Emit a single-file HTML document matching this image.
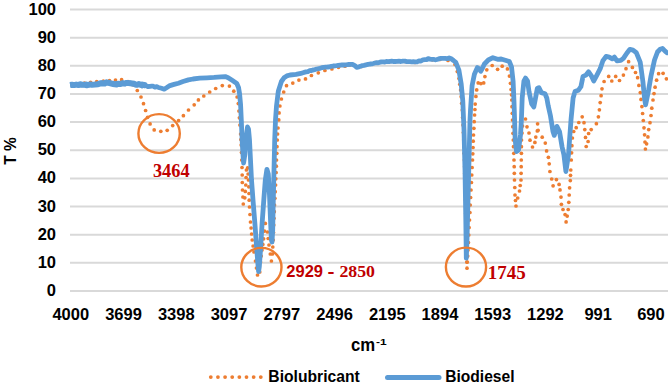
<!DOCTYPE html><html><head><meta charset="utf-8"><style>html,body{margin:0;padding:0;background:#fff;overflow:hidden}svg{display:block}text{font-family:"Liberation Sans",sans-serif;font-weight:bold}</style></head><body>
<svg width="668" height="388" viewBox="0 0 668 388">
<rect width="668" height="388" fill="#fff"/>
<line x1="70" y1="9.54" x2="668" y2="9.54" stroke="#d9d9d9" stroke-width="2"/>
<line x1="70" y1="37.68" x2="668" y2="37.68" stroke="#d9d9d9" stroke-width="2"/>
<line x1="70" y1="65.82" x2="668" y2="65.82" stroke="#d9d9d9" stroke-width="2"/>
<line x1="70" y1="93.96" x2="668" y2="93.96" stroke="#d9d9d9" stroke-width="2"/>
<line x1="70" y1="122.10" x2="668" y2="122.10" stroke="#d9d9d9" stroke-width="2"/>
<line x1="70" y1="150.24" x2="668" y2="150.24" stroke="#d9d9d9" stroke-width="2"/>
<line x1="70" y1="178.38" x2="668" y2="178.38" stroke="#d9d9d9" stroke-width="2"/>
<line x1="70" y1="206.52" x2="668" y2="206.52" stroke="#d9d9d9" stroke-width="2"/>
<line x1="70" y1="234.66" x2="668" y2="234.66" stroke="#d9d9d9" stroke-width="2"/>
<line x1="70" y1="262.80" x2="668" y2="262.80" stroke="#d9d9d9" stroke-width="2"/>
<line x1="70" y1="290.94" x2="668" y2="290.94" stroke="#d9d9d9" stroke-width="2"/>
<text x="56" y="14.65" font-size="16.5" text-anchor="end" fill="#000">100</text>
<text x="56" y="42.79" font-size="16.5" text-anchor="end" fill="#000">90</text>
<text x="56" y="70.93" font-size="16.5" text-anchor="end" fill="#000">80</text>
<text x="56" y="99.07" font-size="16.5" text-anchor="end" fill="#000">70</text>
<text x="56" y="127.21" font-size="16.5" text-anchor="end" fill="#000">60</text>
<text x="56" y="155.35" font-size="16.5" text-anchor="end" fill="#000">50</text>
<text x="56" y="183.49" font-size="16.5" text-anchor="end" fill="#000">40</text>
<text x="56" y="211.63" font-size="16.5" text-anchor="end" fill="#000">30</text>
<text x="56" y="239.77" font-size="16.5" text-anchor="end" fill="#000">20</text>
<text x="56" y="267.91" font-size="16.5" text-anchor="end" fill="#000">10</text>
<text x="56" y="296.05" font-size="16.5" text-anchor="end" fill="#000">0</text>
<text x="70.80" y="320.2" font-size="16.5" text-anchor="middle" fill="#000">4000</text>
<text x="123.54" y="320.2" font-size="16.5" text-anchor="middle" fill="#000">3699</text>
<text x="176.28" y="320.2" font-size="16.5" text-anchor="middle" fill="#000">3398</text>
<text x="229.02" y="320.2" font-size="16.5" text-anchor="middle" fill="#000">3097</text>
<text x="281.76" y="320.2" font-size="16.5" text-anchor="middle" fill="#000">2797</text>
<text x="334.50" y="320.2" font-size="16.5" text-anchor="middle" fill="#000">2496</text>
<text x="387.24" y="320.2" font-size="16.5" text-anchor="middle" fill="#000">2195</text>
<text x="439.98" y="320.2" font-size="16.5" text-anchor="middle" fill="#000">1894</text>
<text x="492.72" y="320.2" font-size="16.5" text-anchor="middle" fill="#000">1593</text>
<text x="545.46" y="320.2" font-size="16.5" text-anchor="middle" fill="#000">1292</text>
<text x="598.20" y="320.2" font-size="16.5" text-anchor="middle" fill="#000">991</text>
<text x="650.94" y="320.2" font-size="16.5" text-anchor="middle" fill="#000">690</text>
<g fill="#ed7d31"><circle cx="73.0" cy="84.6" r="1.85"/><circle cx="78.0" cy="84.0" r="1.85"/><circle cx="84.5" cy="83.0" r="1.85"/><circle cx="90.6" cy="82.3" r="1.85"/><circle cx="96.7" cy="81.6" r="1.85"/><circle cx="103.4" cy="81.0" r="1.85"/><circle cx="109.5" cy="80.6" r="1.85"/><circle cx="115.5" cy="80.1" r="1.85"/><circle cx="121.6" cy="79.7" r="1.85"/><circle cx="128.0" cy="81.6" r="1.85"/><circle cx="133.2" cy="84.8" r="1.85"/><circle cx="137.3" cy="90.5" r="1.85"/><circle cx="141.0" cy="97.0" r="1.85"/><circle cx="143.5" cy="103.7" r="1.85"/><circle cx="145.6" cy="110.5" r="1.85"/><circle cx="147.6" cy="117.3" r="1.85"/><circle cx="150.1" cy="123.9" r="1.85"/><circle cx="154.2" cy="129.9" r="1.85"/><circle cx="160.8" cy="131.3" r="1.85"/><circle cx="167.2" cy="130.3" r="1.85"/><circle cx="172.7" cy="125.6" r="1.85"/><circle cx="178.6" cy="120.6" r="1.85"/><circle cx="183.4" cy="115.7" r="1.85"/><circle cx="188.5" cy="110.0" r="1.85"/><circle cx="194.2" cy="104.8" r="1.85"/><circle cx="198.4" cy="99.9" r="1.85"/><circle cx="203.8" cy="96.0" r="1.85"/><circle cx="209.7" cy="92.0" r="1.85"/><circle cx="215.7" cy="88.5" r="1.85"/><circle cx="222.3" cy="85.6" r="1.85"/><circle cx="229.4" cy="86.1" r="1.85"/><circle cx="233.8" cy="91.2" r="1.85"/><circle cx="237.1" cy="97.0" r="1.85"/><circle cx="238.3" cy="103.6" r="1.85"/><circle cx="238.9" cy="111.0" r="1.85"/><circle cx="239.4" cy="117.8" r="1.85"/><circle cx="239.9" cy="125.0" r="1.85"/><circle cx="240.6" cy="134.0" r="1.85"/><circle cx="240.9" cy="139.5" r="1.85"/><circle cx="241.2" cy="145.0" r="1.85"/><circle cx="241.5" cy="152.5" r="1.85"/><circle cx="241.8" cy="160.0" r="1.85"/><circle cx="242.0" cy="167.5" r="1.85"/><circle cx="242.2" cy="175.0" r="1.85"/><circle cx="242.3" cy="182.5" r="1.85"/><circle cx="242.5" cy="190.0" r="1.85"/><circle cx="242.9" cy="197.0" r="1.85"/><circle cx="243.3" cy="204.0" r="1.85"/><circle cx="244.8" cy="197.8" r="1.85"/><circle cx="245.3" cy="191.4" r="1.85"/><circle cx="245.8" cy="185.0" r="1.85"/><circle cx="246.1" cy="177.5" r="1.85"/><circle cx="246.4" cy="170.0" r="1.85"/><circle cx="247.6" cy="167.9" r="1.85"/><circle cx="248.1" cy="174.0" r="1.85"/><circle cx="248.5" cy="180.0" r="1.85"/><circle cx="248.8" cy="186.8" r="1.85"/><circle cx="249.0" cy="193.5" r="1.85"/><circle cx="249.2" cy="200.2" r="1.85"/><circle cx="249.5" cy="207.0" r="1.85"/><circle cx="250.0" cy="214.5" r="1.85"/><circle cx="250.5" cy="222.0" r="1.85"/><circle cx="251.1" cy="228.0" r="1.85"/><circle cx="251.6" cy="234.0" r="1.85"/><circle cx="252.2" cy="240.0" r="1.85"/><circle cx="253.1" cy="246.0" r="1.85"/><circle cx="254.0" cy="252.0" r="1.85"/><circle cx="255.5" cy="261.0" r="1.85"/><circle cx="256.5" cy="268.0" r="1.85"/><circle cx="257.5" cy="275.0" r="1.85"/><circle cx="259.8" cy="272.0" r="1.85"/><circle cx="260.5" cy="262.0" r="1.85"/><circle cx="261.2" cy="256.0" r="1.85"/><circle cx="262.0" cy="250.0" r="1.85"/><circle cx="262.8" cy="244.4" r="1.85"/><circle cx="263.6" cy="238.8" r="1.85"/><circle cx="264.5" cy="231.1" r="1.85"/><circle cx="265.3" cy="223.4" r="1.85"/><circle cx="267.5" cy="232.0" r="1.85"/><circle cx="268.2" cy="238.5" r="1.85"/><circle cx="269.0" cy="245.0" r="1.85"/><circle cx="270.3" cy="254.0" r="1.85"/><circle cx="271.4" cy="261.0" r="1.85"/><circle cx="272.4" cy="254.0" r="1.85"/><circle cx="272.8" cy="247.0" r="1.85"/><circle cx="273.2" cy="240.0" r="1.85"/><circle cx="273.5" cy="232.5" r="1.85"/><circle cx="273.8" cy="225.0" r="1.85"/><circle cx="274.0" cy="218.3" r="1.85"/><circle cx="274.3" cy="211.7" r="1.85"/><circle cx="274.5" cy="205.0" r="1.85"/><circle cx="274.9" cy="198.3" r="1.85"/><circle cx="275.2" cy="191.7" r="1.85"/><circle cx="275.6" cy="185.0" r="1.85"/><circle cx="275.8" cy="178.8" r="1.85"/><circle cx="276.1" cy="172.5" r="1.85"/><circle cx="276.3" cy="166.2" r="1.85"/><circle cx="276.5" cy="160.0" r="1.85"/><circle cx="276.8" cy="153.3" r="1.85"/><circle cx="277.0" cy="146.7" r="1.85"/><circle cx="277.3" cy="140.0" r="1.85"/><circle cx="277.6" cy="134.0" r="1.85"/><circle cx="278.0" cy="128.0" r="1.85"/><circle cx="278.8" cy="119.9" r="1.85"/><circle cx="279.1" cy="112.9" r="1.85"/><circle cx="279.9" cy="106.0" r="1.85"/><circle cx="281.4" cy="99.0" r="1.85"/><circle cx="283.7" cy="92.0" r="1.85"/><circle cx="286.5" cy="85.7" r="1.85"/><circle cx="292.8" cy="83.1" r="1.85"/><circle cx="298.9" cy="80.1" r="1.85"/><circle cx="305.5" cy="78.9" r="1.85"/><circle cx="311.4" cy="75.5" r="1.85"/><circle cx="318.3" cy="72.8" r="1.85"/><circle cx="324.9" cy="70.5" r="1.85"/><circle cx="331.9" cy="68.9" r="1.85"/><circle cx="338.5" cy="67.3" r="1.85"/><circle cx="345.0" cy="66.2" r="1.85"/><circle cx="350.0" cy="65.0" r="1.85"/><circle cx="356.0" cy="66.5" r="1.85"/><circle cx="361.6" cy="66.4" r="1.85"/><circle cx="367.0" cy="64.5" r="1.85"/><circle cx="375.0" cy="62.5" r="1.85"/><circle cx="382.5" cy="62.0" r="1.85"/><circle cx="390.0" cy="61.5" r="1.85"/><circle cx="397.5" cy="61.5" r="1.85"/><circle cx="405.0" cy="61.5" r="1.85"/><circle cx="415.0" cy="62.5" r="1.85"/><circle cx="425.0" cy="60.0" r="1.85"/><circle cx="432.5" cy="59.8" r="1.85"/><circle cx="440.0" cy="59.5" r="1.85"/><circle cx="448.0" cy="60.5" r="1.85"/><circle cx="455.0" cy="64.5" r="1.85"/><circle cx="457.3" cy="71.6" r="1.85"/><circle cx="459.0" cy="78.6" r="1.85"/><circle cx="459.8" cy="84.3" r="1.85"/><circle cx="460.6" cy="90.0" r="1.85"/><circle cx="461.2" cy="96.7" r="1.85"/><circle cx="461.7" cy="103.3" r="1.85"/><circle cx="462.3" cy="110.0" r="1.85"/><circle cx="462.6" cy="117.5" r="1.85"/><circle cx="463.0" cy="125.0" r="1.85"/><circle cx="463.4" cy="132.5" r="1.85"/><circle cx="463.7" cy="140.0" r="1.85"/><circle cx="463.9" cy="146.7" r="1.85"/><circle cx="464.1" cy="153.3" r="1.85"/><circle cx="464.4" cy="160.0" r="1.85"/><circle cx="464.6" cy="166.7" r="1.85"/><circle cx="464.8" cy="173.3" r="1.85"/><circle cx="465.0" cy="180.0" r="1.85"/><circle cx="465.1" cy="186.7" r="1.85"/><circle cx="465.3" cy="193.3" r="1.85"/><circle cx="465.4" cy="200.0" r="1.85"/><circle cx="465.6" cy="206.7" r="1.85"/><circle cx="465.8" cy="213.3" r="1.85"/><circle cx="465.9" cy="220.0" r="1.85"/><circle cx="466.0" cy="227.5" r="1.85"/><circle cx="466.2" cy="235.0" r="1.85"/><circle cx="466.4" cy="242.5" r="1.85"/><circle cx="466.5" cy="250.0" r="1.85"/><circle cx="466.7" cy="256.1" r="1.85"/><circle cx="466.8" cy="262.1" r="1.85"/><circle cx="467.0" cy="268.2" r="1.85"/><circle cx="467.3" cy="262.1" r="1.85"/><circle cx="467.7" cy="256.1" r="1.85"/><circle cx="468.0" cy="250.0" r="1.85"/><circle cx="468.4" cy="242.5" r="1.85"/><circle cx="468.8" cy="235.0" r="1.85"/><circle cx="469.1" cy="227.5" r="1.85"/><circle cx="469.5" cy="220.0" r="1.85"/><circle cx="469.9" cy="212.5" r="1.85"/><circle cx="470.2" cy="205.0" r="1.85"/><circle cx="470.6" cy="197.5" r="1.85"/><circle cx="471.0" cy="190.0" r="1.85"/><circle cx="471.4" cy="182.5" r="1.85"/><circle cx="471.8" cy="175.0" r="1.85"/><circle cx="472.1" cy="167.5" r="1.85"/><circle cx="472.5" cy="160.0" r="1.85"/><circle cx="472.8" cy="153.8" r="1.85"/><circle cx="473.0" cy="147.5" r="1.85"/><circle cx="473.2" cy="141.2" r="1.85"/><circle cx="473.5" cy="135.0" r="1.85"/><circle cx="473.9" cy="128.3" r="1.85"/><circle cx="474.2" cy="121.7" r="1.85"/><circle cx="474.6" cy="115.0" r="1.85"/><circle cx="474.9" cy="109.5" r="1.85"/><circle cx="475.2" cy="104.1" r="1.85"/><circle cx="475.9" cy="96.4" r="1.85"/><circle cx="476.7" cy="89.9" r="1.85"/><circle cx="478.2" cy="82.9" r="1.85"/><circle cx="483.7" cy="82.9" r="1.85"/><circle cx="484.9" cy="76.6" r="1.85"/><circle cx="486.8" cy="69.8" r="1.85"/><circle cx="492.2" cy="65.5" r="1.85"/><circle cx="497.6" cy="69.3" r="1.85"/><circle cx="502.2" cy="66.2" r="1.85"/><circle cx="507.4" cy="68.9" r="1.85"/><circle cx="509.4" cy="76.1" r="1.85"/><circle cx="510.5" cy="83.3" r="1.85"/><circle cx="511.1" cy="89.5" r="1.85"/><circle cx="511.5" cy="94.8" r="1.85"/><circle cx="511.8" cy="100.0" r="1.85"/><circle cx="512.0" cy="106.7" r="1.85"/><circle cx="512.3" cy="113.3" r="1.85"/><circle cx="512.5" cy="120.0" r="1.85"/><circle cx="512.8" cy="126.7" r="1.85"/><circle cx="513.0" cy="133.3" r="1.85"/><circle cx="513.3" cy="140.0" r="1.85"/><circle cx="513.5" cy="146.7" r="1.85"/><circle cx="513.8" cy="153.3" r="1.85"/><circle cx="514.0" cy="160.0" r="1.85"/><circle cx="514.2" cy="166.7" r="1.85"/><circle cx="514.3" cy="173.3" r="1.85"/><circle cx="514.5" cy="180.0" r="1.85"/><circle cx="514.8" cy="187.5" r="1.85"/><circle cx="515.0" cy="195.0" r="1.85"/><circle cx="515.5" cy="200.5" r="1.85"/><circle cx="516.0" cy="206.0" r="1.85"/><circle cx="517.7" cy="198.0" r="1.85"/><circle cx="519.5" cy="191.0" r="1.85"/><circle cx="520.2" cy="185.5" r="1.85"/><circle cx="521.0" cy="180.0" r="1.85"/><circle cx="521.1" cy="173.3" r="1.85"/><circle cx="521.2" cy="166.7" r="1.85"/><circle cx="521.3" cy="160.0" r="1.85"/><circle cx="521.4" cy="153.3" r="1.85"/><circle cx="521.4" cy="146.7" r="1.85"/><circle cx="521.5" cy="140.0" r="1.85"/><circle cx="522.0" cy="133.0" r="1.85"/><circle cx="522.5" cy="126.0" r="1.85"/><circle cx="525.5" cy="119.0" r="1.85"/><circle cx="527.0" cy="126.8" r="1.85"/><circle cx="529.0" cy="133.0" r="1.85"/><circle cx="530.0" cy="140.2" r="1.85"/><circle cx="532.5" cy="147.0" r="1.85"/><circle cx="534.9" cy="142.4" r="1.85"/><circle cx="535.8" cy="137.1" r="1.85"/><circle cx="537.3" cy="130.9" r="1.85"/><circle cx="537.6" cy="123.8" r="1.85"/><circle cx="538.1" cy="130.3" r="1.85"/><circle cx="542.2" cy="137.2" r="1.85"/><circle cx="545.3" cy="143.1" r="1.85"/><circle cx="546.6" cy="150.9" r="1.85"/><circle cx="548.4" cy="157.3" r="1.85"/><circle cx="549.2" cy="163.8" r="1.85"/><circle cx="549.9" cy="171.5" r="1.85"/><circle cx="551.7" cy="179.0" r="1.85"/><circle cx="553.1" cy="185.8" r="1.85"/><circle cx="556.4" cy="179.6" r="1.85"/><circle cx="559.1" cy="184.4" r="1.85"/><circle cx="560.0" cy="189.9" r="1.85"/><circle cx="561.0" cy="197.1" r="1.85"/><circle cx="561.4" cy="204.3" r="1.85"/><circle cx="563.0" cy="209.5" r="1.85"/><circle cx="565.1" cy="214.6" r="1.85"/><circle cx="566.1" cy="221.9" r="1.85"/><circle cx="567.2" cy="216.1" r="1.85"/><circle cx="568.2" cy="209.5" r="1.85"/><circle cx="568.8" cy="202.3" r="1.85"/><circle cx="569.2" cy="195.0" r="1.85"/><circle cx="569.6" cy="187.8" r="1.85"/><circle cx="570.3" cy="180.6" r="1.85"/><circle cx="570.5" cy="175.3" r="1.85"/><circle cx="570.8" cy="170.0" r="1.85"/><circle cx="571.3" cy="160.0" r="1.85"/><circle cx="571.6" cy="152.8" r="1.85"/><circle cx="571.9" cy="145.7" r="1.85"/><circle cx="572.4" cy="138.0" r="1.85"/><circle cx="573.7" cy="131.5" r="1.85"/><circle cx="576.2" cy="127.7" r="1.85"/><circle cx="578.8" cy="122.5" r="1.85"/><circle cx="582.2" cy="116.8" r="1.85"/><circle cx="584.0" cy="122.7" r="1.85"/><circle cx="584.8" cy="129.6" r="1.85"/><circle cx="585.5" cy="137.4" r="1.85"/><circle cx="586.2" cy="146.5" r="1.85"/><circle cx="588.1" cy="141.5" r="1.85"/><circle cx="588.6" cy="133.5" r="1.85"/><circle cx="591.2" cy="129.6" r="1.85"/><circle cx="596.4" cy="123.7" r="1.85"/><circle cx="598.4" cy="116.8" r="1.85"/><circle cx="599.4" cy="109.8" r="1.85"/><circle cx="600.2" cy="102.6" r="1.85"/><circle cx="601.1" cy="95.7" r="1.85"/><circle cx="602.0" cy="88.8" r="1.85"/><circle cx="604.1" cy="81.5" r="1.85"/><circle cx="608.7" cy="76.4" r="1.85"/><circle cx="611.8" cy="81.0" r="1.85"/><circle cx="615.7" cy="76.4" r="1.85"/><circle cx="619.5" cy="80.5" r="1.85"/><circle cx="623.4" cy="75.1" r="1.85"/><circle cx="626.0" cy="68.7" r="1.85"/><circle cx="628.6" cy="61.7" r="1.85"/><circle cx="632.4" cy="67.4" r="1.85"/><circle cx="635.5" cy="72.5" r="1.85"/><circle cx="637.6" cy="77.7" r="1.85"/><circle cx="638.9" cy="85.4" r="1.85"/><circle cx="640.3" cy="92.6" r="1.85"/><circle cx="641.0" cy="99.4" r="1.85"/><circle cx="641.9" cy="106.6" r="1.85"/><circle cx="642.6" cy="113.5" r="1.85"/><circle cx="643.3" cy="120.5" r="1.85"/><circle cx="644.0" cy="127.8" r="1.85"/><circle cx="644.6" cy="134.8" r="1.85"/><circle cx="645.0" cy="142.0" r="1.85"/><circle cx="645.4" cy="149.0" r="1.85"/><circle cx="646.6" cy="143.8" r="1.85"/><circle cx="647.9" cy="136.9" r="1.85"/><circle cx="648.7" cy="129.6" r="1.85"/><circle cx="650.0" cy="122.7" r="1.85"/><circle cx="651.0" cy="115.5" r="1.85"/><circle cx="651.8" cy="108.2" r="1.85"/><circle cx="653.0" cy="100.0" r="1.85"/><circle cx="654.0" cy="93.6" r="1.85"/><circle cx="655.1" cy="87.2" r="1.85"/><circle cx="656.6" cy="80.2" r="1.85"/><circle cx="658.6" cy="73.7" r="1.85"/><circle cx="663.1" cy="73.3" r="1.85"/><circle cx="666.4" cy="78.8" r="1.85"/><circle cx="670.0" cy="80.0" r="1.85"/><circle cx="480.9" cy="83.6" r="1.85"/></g>
<path d="M70.1 85.0 L72.0 84.7 L74.0 85.1 L76.2 84.4 L78.5 85.0 L80.2 85.2 L82.0 84.7 L85.0 84.8 L86.8 84.0 L88.5 84.9 L90.2 84.9 L92.0 84.7 L95.0 84.5 L98.0 84.2 L99.7 83.6 L101.3 82.7 L103.0 83.3 L104.7 83.1 L106.3 82.0 L108.0 82.7 L109.8 83.0 L111.5 83.6 L113.2 83.1 L114.9 84.3 L116.7 83.2 L118.5 83.8 L120.8 83.3 L123.0 83.2 L124.8 83.8 L126.5 82.4 L128.3 83.1 L130.2 82.8 L132.1 83.8 L134.0 83.8 L135.6 84.9 L137.2 84.4 L138.9 84.3 L140.5 84.7 L142.3 86.0 L144.2 84.4 L146.0 85.6 L148.0 86.7 L150.0 86.4 L151.7 86.2 L153.3 86.2 L155.0 87.2 L156.8 86.6 L158.5 87.5 L161.5 88.3 L164.2 89.2 L166.5 87.8 L169.9 85.6 L174.0 84.4 L178.4 83.2 L183.0 81.5 L188.4 79.9 L193.0 79.0 L199.8 78.2 L207.0 77.8 L214.0 77.4 L221.1 76.8 L225.2 76.6 L228.2 77.8 L232.5 80.6 L236.8 83.5 L238.6 87.8 L239.6 94.0 L240.6 105.0 L241.3 120.0 L242.1 140.0 L243.0 155.0 L243.6 163.0 L244.8 155.0 L246.0 138.0 L247.5 127.0 L248.5 129.0 L249.5 140.0 L250.5 160.0 L251.5 180.0 L253.0 200.0 L255.0 225.0 L256.8 250.0 L258.0 265.0 L258.6 271.5 L259.3 267.0 L260.5 250.0 L262.0 225.0 L263.8 200.0 L265.3 180.0 L266.9 169.3 L268.3 174.0 L269.5 195.0 L270.5 220.0 L271.4 240.0 L272.0 242.0 L272.7 230.0 L273.3 200.0 L274.0 170.0 L274.7 140.0 L275.5 120.0 L276.5 106.0 L278.3 91.3 L281.4 81.5 L284.0 77.8 L286.8 75.9 L290.0 75.0 L296.0 74.4 L302.0 73.1 L304.0 72.4 L306.0 71.9 L307.9 71.6 L309.7 70.7 L311.5 70.5 L313.4 69.9 L315.0 69.6 L316.7 69.0 L318.4 68.7 L320.0 68.3 L321.9 67.7 L323.9 67.3 L325.8 67.1 L327.7 67.0 L329.5 66.8 L331.4 66.3 L333.2 66.0 L335.0 65.8 L336.7 65.7 L338.4 65.4 L340.2 65.1 L341.9 65.0 L343.9 65.0 L346.0 64.8 L348.0 64.5 L350.2 64.3 L352.5 64.4 L354.8 65.6 L356.6 67.3 L359.0 66.8 L362.0 65.7 L364.0 65.3 L366.0 64.8 L368.0 64.4 L370.0 64.0 L371.7 63.9 L373.3 63.5 L375.0 63.0 L376.7 62.6 L378.3 62.8 L380.0 62.2 L381.6 61.8 L383.2 61.9 L384.8 62.0 L386.4 61.5 L388.0 61.6 L389.8 61.5 L391.6 61.1 L393.4 61.5 L395.2 61.5 L397.0 61.3 L398.8 61.2 L400.9 61.5 L402.9 61.1 L405.0 61.2 L406.7 61.6 L408.3 61.6 L410.0 61.6 L411.7 61.8 L413.3 61.7 L415.0 61.8 L417.0 61.8 L419.0 60.8 L421.0 61.0 L423.0 59.8 L424.8 59.6 L426.5 59.7 L428.2 58.6 L430.0 59.1 L431.7 59.4 L433.4 59.3 L435.2 59.8 L436.9 59.5 L438.6 58.9 L440.7 58.4 L442.9 58.3 L445.0 58.3 L447.1 58.7 L449.1 57.9 L451.2 58.8 L453.5 60.5 L455.8 62.4 L458.9 70.1 L461.2 84.0 L462.8 101.0 L464.0 130.0 L465.0 170.0 L465.8 220.0 L466.3 258.2 L467.0 240.0 L468.0 200.0 L469.0 160.0 L470.0 120.0 L470.5 110.0 L472.1 85.6 L474.4 74.2 L477.3 67.6 L478.8 68.5 L480.8 71.2 L482.5 68.0 L484.4 64.0 L488.3 60.0 L492.9 57.7 L497.6 59.3 L501.2 59.0 L505.3 60.2 L509.4 61.6 L511.5 66.8 L513.1 81.2 L514.0 101.9 L514.6 120.0 L515.2 140.0 L516.5 151.5 L518.5 150.0 L520.5 135.0 L521.4 120.0 L522.2 97.7 L523.9 81.2 L525.5 78.1 L527.6 81.2 L529.0 91.5 L531.7 103.9 L533.8 107.0 L535.2 99.8 L537.3 88.5 L538.9 87.7 L541.4 92.6 L545.0 93.8 L546.8 98.0 L548.2 105.8 L550.5 116.1 L553.0 131.5 L554.3 135.4 L556.9 126.4 L559.5 131.5 L562.1 147.0 L563.9 154.7 L565.9 171.5 L568.5 154.7 L571.1 118.7 L573.1 98.0 L575.0 91.6 L578.3 90.3 L580.9 86.7 L583.0 76.4 L586.0 75.1 L588.6 71.8 L591.7 76.4 L593.8 81.0 L596.9 75.1 L600.2 68.7 L602.8 60.9 L606.1 56.3 L609.2 57.1 L612.3 58.9 L614.4 57.1 L617.0 60.9 L620.8 60.4 L623.4 58.4 L626.8 53.2 L629.9 49.3 L633.0 50.1 L636.3 52.7 L640.2 62.2 L642.9 81.5 L644.6 99.0 L645.6 104.8 L646.8 99.0 L648.6 90.0 L651.0 76.0 L654.5 60.0 L657.5 52.0 L660.0 49.3 L662.5 48.5 L665.1 51.1 L667.0 52.8 L672.0 53.5" fill="none" stroke="#5b9bd5" stroke-width="4.8" stroke-linecap="butt" stroke-linejoin="round"/>
<path d="M70.1 85.0 L72.0 84.7 L74.0 85.1 L76.2 84.6 L78.5 85.0 L80.2 84.3 L82.0 84.7 L85.0 84.8 L86.8 85.2 L88.5 84.9 L90.2 84.4 L92.0 84.7 L95.0 84.5 L98.0 84.2 L99.7 83.6 L101.3 83.5 L103.0 83.3 L104.7 83.5 L106.3 82.4 L108.0 82.7 L109.8 83.1 L111.5 83.6 L113.2 84.0 L114.9 84.3 L116.7 84.5 L118.5 83.8 L120.8 83.9 L123.0 83.2 L124.8 83.6 L126.5 82.9 L128.3 83.1 L130.2 83.2 L132.1 83.4 L134.0 83.8 L135.6 84.5 L137.2 84.8 L138.9 84.1 L140.5 84.7 L142.3 84.6 L144.2 85.0 L146.0 85.6" fill="none" stroke="#5b9bd5" stroke-width="6" stroke-linecap="butt" stroke-linejoin="round"/>
<ellipse cx="159.10" cy="133.50" rx="20.70" ry="19.40" fill="none" stroke="#ed7d31" stroke-width="2.4"/>
<ellipse cx="261.40" cy="267.20" rx="20.10" ry="19.30" fill="none" stroke="#ed7d31" stroke-width="2.4"/>
<ellipse cx="466.00" cy="267.05" rx="20.10" ry="19.45" fill="none" stroke="#ed7d31" stroke-width="2.4"/>
<text x="152.9" y="177" font-size="18.35" fill="#c00000" style="font-family:'Liberation Serif',serif">3464</text>
<text x="286.3" y="277.3" font-size="16.5" fill="#c00000">2929</text>
<text x="327.4" y="277.3" font-size="16.5" fill="#c00000" textLength="7" lengthAdjust="spacingAndGlyphs">-</text>
<text x="339.4" y="277.3" font-size="17.3" textLength="35.6" lengthAdjust="spacingAndGlyphs" fill="#c00000" style="font-family:'Liberation Serif',serif">2850</text>
<text x="487.8" y="278.7" font-size="19" fill="#c00000" style="font-family:'Liberation Serif',serif">1745</text>
<text x="351" y="350.5" font-size="19" fill="#000" textLength="24.2" lengthAdjust="spacingAndGlyphs">cm</text>
<text x="376" y="344.6" font-size="9.5" fill="#000" textLength="10.6" lengthAdjust="spacingAndGlyphs">-1</text>
<text transform="translate(16.2 151) rotate(-90)" x="0" y="0" font-size="17" text-anchor="middle" fill="#000" textLength="27.5" lengthAdjust="spacingAndGlyphs">T %</text>
<g fill="#ed7d31"><circle cx="210.80" cy="377.1" r="1.9"/><circle cx="217.94" cy="377.1" r="1.9"/><circle cx="225.08" cy="377.1" r="1.9"/><circle cx="232.22" cy="377.1" r="1.9"/><circle cx="239.36" cy="377.1" r="1.9"/><circle cx="246.50" cy="377.1" r="1.9"/><circle cx="253.64" cy="377.1" r="1.9"/><circle cx="260.78" cy="377.1" r="1.9"/></g>
<text x="268.3" y="382.3" font-size="15.7" fill="#000">Biolubricant</text>
<line x1="387.5" y1="377.4" x2="439" y2="377.4" stroke="#5b9bd5" stroke-width="5" stroke-linecap="round"/>
<text x="445.2" y="382.4" font-size="15.6" fill="#000">Biodiesel</text>
</svg></body></html>
